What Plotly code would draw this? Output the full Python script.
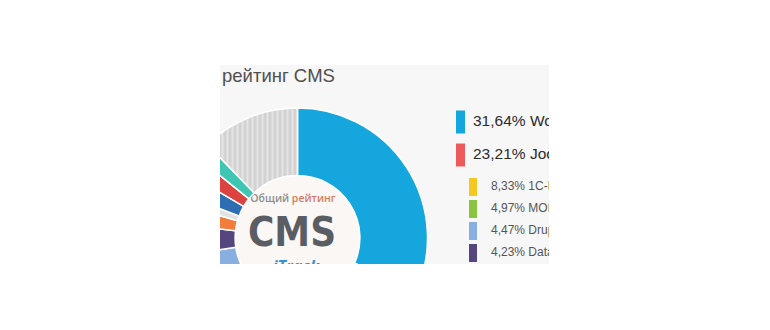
import plotly.graph_objects as go

# ---------------- data ----------------
labels = ["WordPress", "Joomla", "1C-Bitrix", "MODx", "Drupal", "DataLife Engine",
          "UMI.CMS", "NetCat", "HostCMS", "Amiro.CMS", "Webasyst", "Другие"]
values = [31.64, 23.21, 8.33, 4.97, 4.47, 4.23, 2.6, 1.3, 2.7, 2.35, 2.0, 12.2]
colors = ["#14a6dc", "#ee5a5c", "#f4c81e", "#8bc43f", "#88afdf", "#564680",
          "#f27c3c", "#e2e2e2", "#2d6db2", "#db4341", "#3ec6b2", "#d4d4d4"]
legend_count = 6          # rows of the legend that are shown
title_text = "рейтинг CMS"
center_top = "Общий"
center_top2 = "рейтинг"
center_big = "CMS"
center_logo = "iTrack"

# ---------------- layout geometry (pixels) ----------------
W, H = 770, 372
X0, X1, Y0, Y1 = 220, 549, 65, 264          # visible window of the chart
CX, CY, R = 297.5, 238, 130                 # donut centre / radius
HOLE = 0.48

fig = go.Figure()

# donut
fig.add_trace(go.Pie(
    labels=labels, values=values, sort=False, direction="clockwise", rotation=0,
    hole=HOLE, textinfo="none", hoverinfo="label+percent", showlegend=False,
    marker=dict(colors=colors, line=dict(color="#ffffff", width=1.5),
                pattern=dict(shape=[""] * (len(values) - 1) + ["|"],
                             fgcolor="#e5e5e5", bgcolor="#d2d2d2", fgopacity=1,
                             size=5, solidity=0.4)),
    domain=dict(x=[(CX - R) / W, (CX + R) / W], y=[(H - (CY + R)) / H, (H - (CY - R)) / H]),
))

def fmt(v):
    return f"{v:.2f}".replace(".", ",") + "%"

# legend text rows (clipped by the axes window)
rows_y = []
for i in range(legend_count):
    rows_y.append(122 + 33 * i if i < 2 else 187 + 22 * (i - 2))

big_x, small_x = 473, 491
fig.add_trace(go.Scatter(
    x=[big_x] * 2, y=rows_y[:2], mode="text",
    text=[f"{fmt(values[i])} {labels[i]}" for i in range(2)],
    textposition="middle right", cliponaxis=True, hoverinfo="skip", showlegend=False,
    textfont=dict(family="Liberation Sans, Arial", size=15.5, color="#2b2b2b")))
fig.add_trace(go.Scatter(
    x=[small_x] * (legend_count - 2), y=rows_y[2:], mode="text",
    text=[f"{fmt(values[i])} {labels[i]}" for i in range(2, legend_count)],
    textposition="middle right", cliponaxis=True, hoverinfo="skip", showlegend=False,
    textfont=dict(family="Liberation Sans, Arial", size=12, color="#555555")))

# title
fig.add_trace(go.Scatter(
    x=[222], y=[77], mode="text", text=[title_text], textposition="middle right",
    cliponaxis=True, hoverinfo="skip", showlegend=False,
    textfont=dict(family="Liberation Sans, Arial", size=18.5, color="#4f4f4f")))

# centre labels
fig.add_trace(go.Scatter(
    x=[293], y=[199], mode="text",
    text=[f"{center_top} <span style='color:#d97a60'>{center_top2}</span>"],
    textposition="middle center", cliponaxis=True, hoverinfo="skip", showlegend=False,
    textfont=dict(family="Open Sans", size=10.5, color="#8c8c8c", weight=600)))
fig.add_trace(go.Scatter(
    x=[292], y=[236], mode="text", text=[center_big],
    textposition="middle center", cliponaxis=True, hoverinfo="skip", showlegend=False,
    textfont=dict(family="Liberation Sans Narrow, DejaVu Sans Condensed, Open Sans",
                  size=40, color="#5a5e64", weight="bold")))
fig.add_trace(go.Scatter(
    x=[296], y=[268], mode="text", text=[f"<i><b>{center_logo}</b></i>"],
    textposition="middle center", cliponaxis=True, hoverinfo="skip", showlegend=False,
    textfont=dict(family="Open Sans", size=16, color="#3a8fd2")))

shapes = []
# window background + inner disc (below the donut)
shapes.append(dict(type="rect", xref="paper", yref="paper", layer="below",
                   x0=X0 / W, x1=X1 / W, y0=(H - Y1) / H, y1=(H - Y0) / H,
                   fillcolor="#f7f7f7", line=dict(width=0)))
ri = HOLE * R + 2
shapes.append(dict(type="circle", xref="x", yref="y", layer="below",
                   x0=CX - ri, x1=CX + ri, y0=CY - ri, y1=CY + ri,
                   fillcolor="#fbf7f5", line=dict(width=0)))
# legend swatches
for i in range(legend_count):
    if i < 2:
        xa, xb, hh = 456, 465, 11.5
    else:
        xa, xb, hh = 469, 477, 9
    shapes.append(dict(type="rect", xref="x", yref="y", layer="above",
                       x0=xa, x1=xb, y0=rows_y[i] - hh, y1=rows_y[i] + hh,
                       fillcolor=colors[i], line=dict(width=0)))
# white masks around the visible window
for (a, b, c, d) in [(0, X0, 0, H), (X1, W, 0, H), (0, W, 0, Y0), (0, W, Y1, H)]:
    shapes.append(dict(type="rect", xref="paper", yref="paper", layer="above",
                       x0=a / W, x1=b / W, y0=(H - d) / H, y1=(H - c) / H,
                       fillcolor="#ffffff", line=dict(width=0)))

fig.update_layout(
    width=W, height=H, margin=dict(l=0, r=0, t=0, b=0),
    paper_bgcolor="#ffffff", plot_bgcolor="rgba(0,0,0,0)",
    shapes=shapes,
    xaxis=dict(domain=[X0 / W, X1 / W], range=[X0, X1], visible=False, fixedrange=True),
    yaxis=dict(domain=[(H - Y1) / H, (H - Y0) / H], range=[Y1, Y0], visible=False, fixedrange=True),
)

fig.write_html("out.html", config={"displayModeBar": False},
               post_script="document.documentElement.style.overflow='hidden';"
                           "document.body.style.overflow='hidden';"
                           "document.body.style.margin='0';")
